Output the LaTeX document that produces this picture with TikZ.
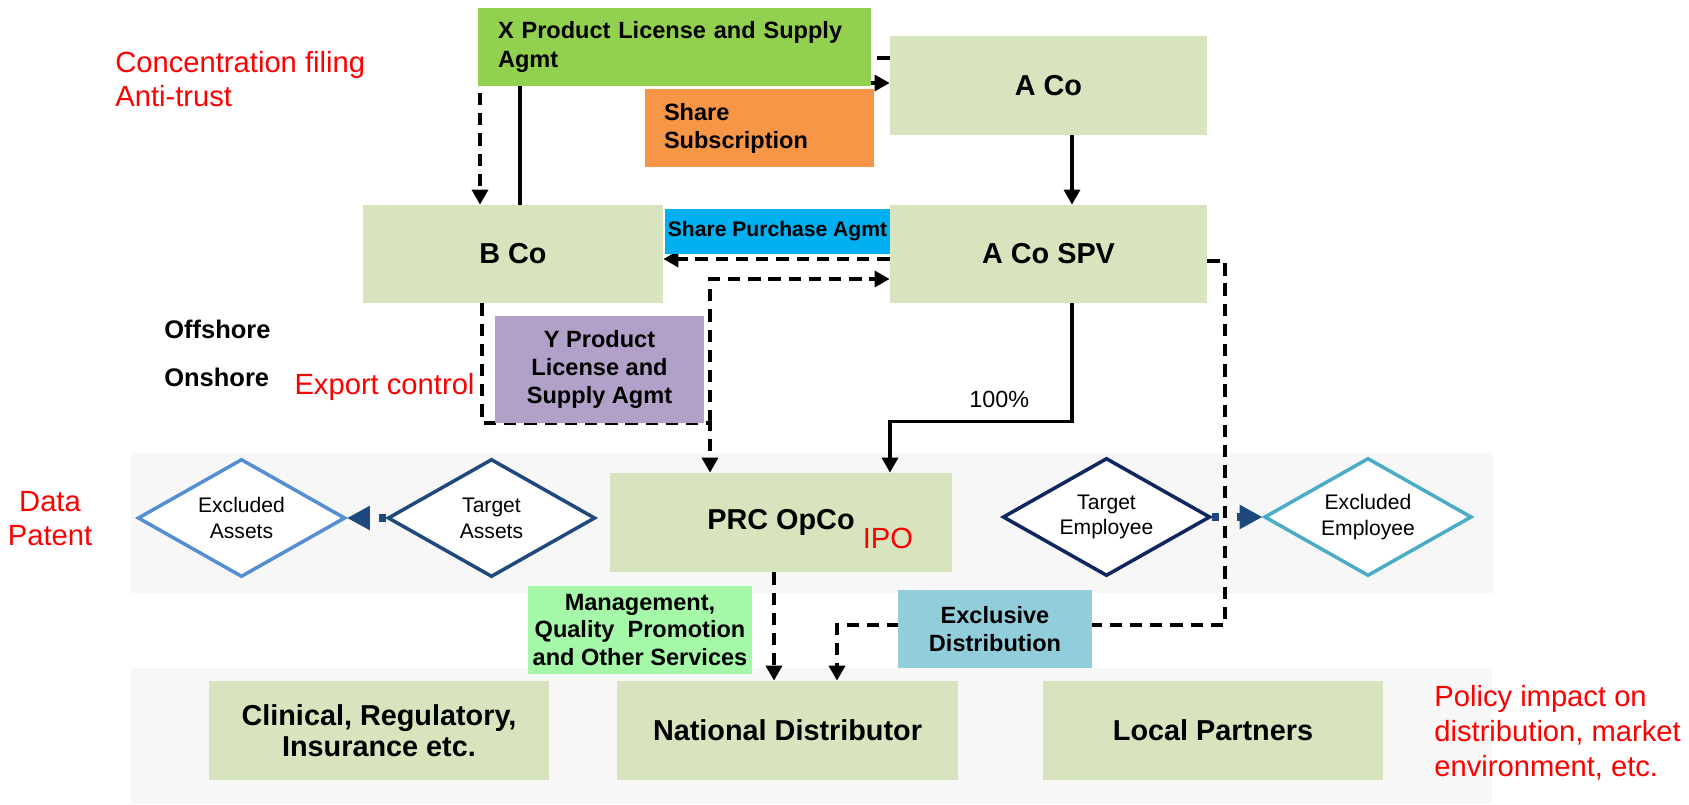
\documentclass[tikz,border=0pt]{standalone}
\usepackage{fontspec}
\setmainfont{Liberation Sans}
\usetikzlibrary{arrows.meta,shapes.geometric}

\definecolor{boxgreen}{HTML}{D7E4BD}
\definecolor{lblgreen}{HTML}{92D050}
\definecolor{lblorange}{HTML}{F79646}
\definecolor{lblblue}{HTML}{00B0F0}
\definecolor{lblpurple}{HTML}{B1A0C7}
\definecolor{lblmint}{HTML}{A4F8A8}
\definecolor{lblcyan}{HTML}{92CDDC}
\definecolor{bandgray}{HTML}{F7F7F7}
\definecolor{exclasset}{HTML}{558ED5}
\definecolor{tgtasset}{HTML}{1F497D}
\definecolor{tgtemp}{HTML}{0F275E}
\definecolor{exclemp}{HTML}{4BACC6}
\definecolor{notered}{HTML}{FF0000}

\begin{document}
\begin{tikzpicture}
\tikzset{node distance=3cm,
    >={Triangle[length=8.5pt,width=9pt]},
    block/.style={rectangle, fill=boxgreen, minimum width=63.4mm, minimum height=19.8mm, font=\fontsize{16.4}{17.6}\selectfont\bfseries, align=center},
    agmt/.style={rectangle, inner sep=0pt, font=\fontsize{13.4}{15.9}\selectfont\bfseries, align=center},
    hdiamond/.style={diamond, draw, line width=2pt, fill=white, inner sep=0pt, aspect=1.75, minimum width=41.5mm, minimum height=23.6mm, font=\fontsize{12}{14.7}\selectfont, align=center},
    redtext/.style={text=notered, inner sep=0pt, font=\fontsize{16.6}{19.3}\selectfont},
    sidetext/.style={inner sep=0pt, font=\fontsize{14.5}{17}\selectfont\bfseries},
    solidarrow/.style={line width=2pt, ->},
    dasharrow/.style={line width=2.2pt, ->, dash pattern=on 7pt off 4.5pt},
    blockarrow/.style={draw=tgtasset, line width=4pt, dash pattern=on 4pt off 10pt, -{Triangle[length=13pt,width=13pt]}}
}
  \useasboundingbox (0,0) rectangle (33.78,-16.08);
  \fill[bandgray] (2.62,-9.06) rectangle (29.86,-11.86);
  \fill[bandgray] (2.62,-13.36) rectangle (29.84,-16.08);

  \node[block] (ACo) at (20.97,-1.71) {A Co};
  \node[block, below of=ACo, node distance=33.7mm, minimum height=19.6mm] (ACoSPV) {A Co SPV};
  \node[block, left of=ACoSPV, node distance=107.1mm, minimum width=60mm, minimum height=19.6mm] (BCo) {B Co};
  \node[block, minimum width=68.4mm] (OpCo) at (15.62,-10.45) {PRC OpCo};
  \node[block, minimum width=68.2mm] (NatDist) at (15.75,-14.61) {National Distributor};
  \node[block, left of=NatDist, node distance=81.7mm, minimum width=68mm] (Clinical) {Clinical, Regulatory,\\Insurance etc.};
  \node[block, right of=NatDist, node distance=85.1mm, minimum width=68mm] (Local) {Local Partners};

  \node[hdiamond, draw=tgtasset] (TgtAssets) at (9.83,-10.36) {Target\\Assets};
  \node[hdiamond, draw=exclasset, left of=TgtAssets, node distance=50mm] (ExclAssets) {Excluded\\Assets};
  \node[hdiamond, draw=tgtemp] (TgtEmp) at (22.13,-10.34) {Target\\Employee};
  \node[hdiamond, draw=exclemp, right of=TgtEmp, node distance=52.3mm] (ExclEmp) {Excluded\\Employee};

  \coordinate (ylic) at ([xshift=-14.2mm, yshift=10mm]OpCo.north);
  \draw[dasharrow] ([yshift=5.5mm]ACo.west) -| ([xshift=-6.6mm]BCo.north);
  \draw[solidarrow] ([xshift=1.4mm]BCo.north) |- ([yshift=0.5mm]ACo.west);
  \draw[solidarrow] ([xshift=4.7mm]ACo.south) -- ([xshift=4.7mm]ACoSPV.north);
  \draw[dasharrow] ([yshift=-1mm]ACoSPV.west) -- ([yshift=-1mm]BCo.east);
  \draw[dasharrow] ([xshift=-6.2mm]BCo.south) |- (ylic) -- (ylic |- OpCo.north);
  \draw[dasharrow] (ylic) |- ([yshift=-5mm]ACoSPV.west);
  \draw[solidarrow] ([xshift=4.7mm]ACoSPV.south) |- ([xshift=21.8mm, yshift=10.2mm]OpCo.north)
    node[pos=0.7, above=1.2mm, font=\fontsize{13.3}{15}\selectfont] {100\%} -- ([xshift=21.8mm]OpCo.north);
  \draw[dasharrow] ([yshift=-1.4mm]ACoSPV.east) -- ++(3.6mm,0) |- ([xshift=9.9mm, yshift=11.2mm]NatDist.north) -- ([xshift=9.9mm]NatDist.north);
  \draw[dasharrow] ([xshift=-1.4mm]OpCo.south) -- ([xshift=-1.4mm]OpCo.south |- NatDist.north);
  \draw[blockarrow] (TgtAssets) -- (ExclAssets);
  \draw[blockarrow] (TgtEmp) -- (ExclEmp);

  \node[agmt, fill=lblgreen, text width=70.6mm, inner xsep=4mm, minimum height=15.6mm, align=left, font=\fontsize{13.4}{17}\selectfont\bfseries] (XLic) at (13.49,-0.94) {X Product License and Supply\\Agmt};
  \node[agmt, fill=lblorange, text width=38.2mm, inner xsep=3.8mm, minimum height=15.6mm, align=left] (ShareSub) at (15.19,-2.56) {Share\\Subscription};
  \node[agmt, fill=lblblue, minimum width=45mm, minimum height=9mm, font=\fontsize{12}{14}\selectfont\bfseries] (SPA) at (15.55,-4.63) {Share Purchase Agmt};
  \node[agmt, fill=lblpurple, minimum width=41.8mm, minimum height=21.4mm] (YLic) at (11.99,-7.39) {Y Product\\License and\\Supply Agmt};
  \node[agmt, fill=lblmint, minimum width=44.8mm, minimum height=17.6mm] (Mgmt) at (12.8,-12.6) {Management,\\Quality\ \ Promotion\\and Other Services};
  \node[agmt, fill=lblcyan, minimum width=38.8mm, minimum height=15.6mm] (ExclDist) at (19.9,-12.58) {Exclusive\\Distribution};

  \node[redtext, anchor=west, align=left] (concern) at (2.3,-1.58) {Concentration filing\\Anti-trust};
  \node[sidetext, anchor=west] (offshore) at (3.28,-6.58) {Offshore};
  \node[sidetext, anchor=west] (onshore) at (3.28,-7.54) {Onshore};
  \node[redtext] (export) at (7.69,-7.74) {Export control};
  \node[redtext, align=center] (datapat) at (1.0,-10.38) {Data\\Patent};
  \node[redtext] (ipo) at (17.76,-10.76) {IPO};
  \node[redtext, anchor=west, align=left, font=\fontsize{16.6}{19.8}\selectfont] (policy) at (28.68,-14.65) {Policy impact on\\distribution, market\\environment, etc.};
\end{tikzpicture}
\end{document}
